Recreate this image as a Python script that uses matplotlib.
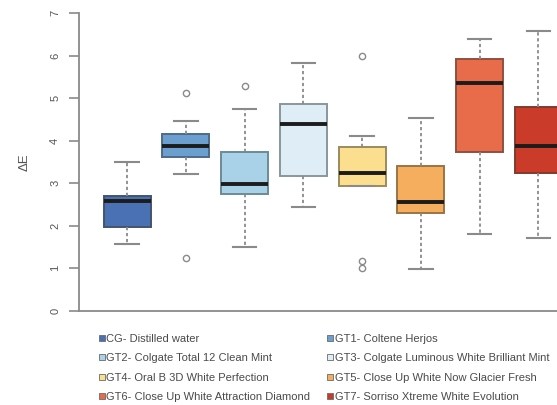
import matplotlib
matplotlib.use("Agg")
import matplotlib.pyplot as plt
from matplotlib.lines import Line2D

plt.rcParams['font.family'] = ['Liberation Sans', 'DejaVu Sans']

# Groups and their legend labels
groups = ["CG", "GT1", "GT2", "GT3", "GT4", "GT5", "GT6", "GT7"]
labels = [
    "CG- Distilled water",
    "GT1- Coltene Herjos",
    "GT2- Colgate Total 12 Clean Mint",
    "GT3- Colgate Luminous White Brilliant Mint",
    "GT4- Oral B 3D White Perfection",
    "GT5- Close Up White Now Glacier Fresh",
    "GT6- Close Up White Attraction Diamond",
    "GT7- Sorriso Xtreme White Evolution",
]

# Five-number summaries of ΔE per group
whisker_low = [1.58, 3.23, 1.51, 2.44, 2.94, 0.98, 1.80, 1.72]
q1 = [1.97, 3.61, 2.76, 3.17, 2.94, 2.29, 3.74, 3.24]
median = [2.58, 3.88, 2.99, 4.39, 3.24, 2.56, 5.36, 3.87]
q3 = [2.70, 4.15, 3.74, 4.87, 3.86, 3.41, 5.92, 4.79]
whisker_high = [3.49, 4.47, 4.74, 5.82, 4.11, 4.54, 6.40, 6.58]
outliers = [[], [5.13, 1.24], [5.29], [], [6.00, 1.18, 1.00], [], [], []]

colors = ["#4a71b4", "#6b9fd0", "#a9d1e7", "#deedf6",
          "#fcde8f", "#f5ae5e", "#e86c49", "#cb3b2a"]
edges = ["#44546e", "#4f6a85", "#6d8a98", "#8a969c",
         "#9a8a5e", "#9a7447", "#8f5140", "#813a30"]

stats = []
for i, g in enumerate(groups):
    stats.append(dict(label=g, whislo=whisker_low[i], q1=q1[i], med=median[i],
                      q3=q3[i], whishi=whisker_high[i], fliers=outliers[i]))

fig = plt.figure(figsize=(5.57, 4.05), dpi=100)
W, H = 557, 405
x_left_px, x_right_px = 79, 557
y_top_px, y_bot_px = 13.3, 310.8
ax = fig.add_axes([x_left_px / W, (H - y_bot_px) / H,
                   (x_right_px - x_left_px) / W, (y_bot_px - y_top_px) / H])

positions = list(range(1, len(groups) + 1))
bp = ax.bxp(stats, positions=positions, widths=0.8, patch_artist=True,
            showfliers=True,
            whiskerprops=dict(color="#8a8a8a", linestyle=(0, (1.8, 1.5)), linewidth=1.3),
            capprops=dict(color="#8a8a8a", linewidth=1.5),
            medianprops=dict(color="#1c1c1c", linewidth=2.8, solid_capstyle="butt"),
            flierprops=dict(marker="o", markerfacecolor="none",
                            markeredgecolor="#8a8a8a", markersize=4.5,
                            markeredgewidth=1.0))
for box, fc, ec in zip(bp["boxes"], colors, edges):
    box.set_facecolor(fc)
    box.set_edgecolor(ec)
    box.set_linewidth(1.4)
for cap in bp["caps"]:
    x0, x1 = cap.get_xdata()
    c = (x0 + x1) / 2
    cap.set_xdata([c - 0.2, c + 0.2])

ax.set_xlim(0.183, 8.318)
ax.set_ylim(0, 7)
ax.set_yticks(range(0, 8))
ax.set_xticks([])
ax.spines["top"].set_visible(False)
ax.spines["right"].set_visible(False)
for s in ("left", "bottom"):
    ax.spines[s].set_color("#8a8a8a")
    ax.spines[s].set_linewidth(1.3)
ax.tick_params(axis="y", length=7.5, width=1.2, color="#8a8a8a", pad=6,
               labelsize=8, labelcolor="#555555", labelrotation=90)
for t in ax.get_yticklabels():
    t.set_va("center")
ax.set_ylabel("ΔE", fontsize=9.5, color="#555555")
ax.yaxis.set_label_coords(-0.101, 0.5)

# Legend: two columns, small square keys
handles = [Line2D([], [], linestyle="none", marker="s", markersize=4.2,
                  markerfacecolor=fc, markeredgecolor="#6a6a6a",
                  markeredgewidth=0.6) for fc in colors]
order = [0, 2, 4, 6, 1, 3, 5, 7]
fig.legend([handles[i] for i in order], [labels[i] for i in order],
           ncol=2, loc="upper left", bbox_to_anchor=(99.2 / W, 1 - 333.5 / H),
           frameon=False, fontsize=8, labelcolor="#4a4a4a",
           handlelength=0.5, handletextpad=0.15, columnspacing=1.55,
           labelspacing=0.86, borderpad=0, borderaxespad=0)

fig.savefig("out.png", dpi=100)
